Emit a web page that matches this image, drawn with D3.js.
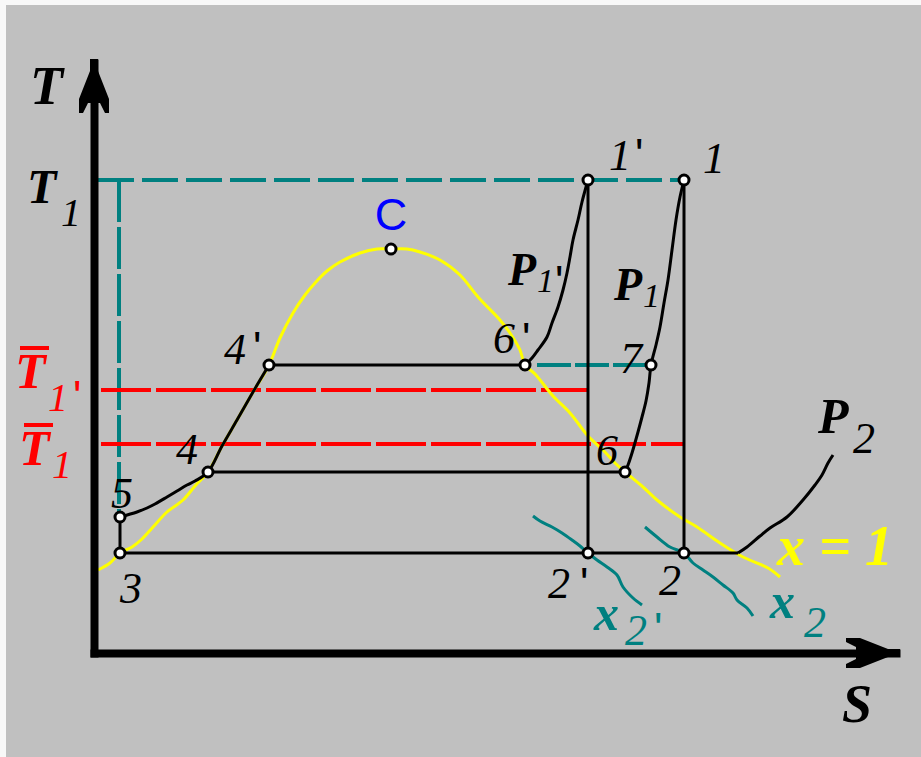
<!DOCTYPE html>
<html>
<head>
<meta charset="utf-8">
<script src="https://cdn.jsdelivr.net/npm/d3@7"></script>
<style>
  html, body { margin: 0; padding: 0; background: #f8f8f8; }
  svg { display: block; }
</style>
</head>
<body>
<svg id="chart" width="921" height="757"></svg>
<script>
// ---- T–S diagram of a steam cycle at two upper pressures (P1, P1') ----

// Axis extents (entropy S, temperature T, arbitrary units)
const S_MAX = 8.02;
const T_MAX = 5.90;

// Named state points
const pointNames = ["3", "5", "4", "4'", "C", "6'", "7", "1'", "1", "6", "2'", "2"];
const pointS     = [0.26, 0.26, 1.14, 1.75, 2.97, 4.31, 5.57, 4.94, 5.90, 5.31, 4.94, 5.90];
const pointT     = [1.00, 1.36, 1.81, 2.88, 4.04, 2.88, 2.88, 4.73, 4.73, 1.81, 1.00, 1.00];

// Upper temperature T1 and the mean heat-addition temperatures
const T1 = 4.73;
const meanTempNames = ["T1'", "T1"];
const meanTempT     = [2.63, 2.09];
const meanTempEndS  = [4.94, 5.90];

// Saturation dome (x = 0 on the left, x = 1 on the right)
const saturationCurve = [
  [0.04, 0.83], [0.16, 0.90], [0.26, 1.00], [0.38, 1.06], [0.48, 1.14], [0.59, 1.26],
  [0.73, 1.41], [0.89, 1.53], [1.01, 1.67], [1.14, 1.81], [1.28, 2.07], [1.43, 2.33],
  [1.59, 2.61], [1.75, 2.88], [1.86, 3.15], [1.99, 3.40], [2.11, 3.58], [2.21, 3.70],
  [2.33, 3.82], [2.46, 3.91], [2.66, 4.00], [2.83, 4.04], [2.97, 4.04], [3.13, 4.04],
  [3.26, 4.01], [3.46, 3.93], [3.66, 3.78], [3.84, 3.56], [4.06, 3.33], [4.16, 3.20],
  [4.26, 3.03], [4.31, 2.88], [4.41, 2.79], [4.59, 2.57], [4.76, 2.40], [4.94, 2.17],
  [5.09, 2.03], [5.21, 1.90], [5.31, 1.81], [5.49, 1.66], [5.63, 1.53], [5.86, 1.36],
  [6.03, 1.26], [6.26, 1.10], [6.49, 0.96], [6.74, 0.85], [6.86, 0.76]
];

// Liquid heating 5 -> 4 -> 4'
const liquidLine = [
  [0.26, 1.36], [0.43, 1.41], [0.53, 1.45], [0.61, 1.49], [0.73, 1.56], [0.83, 1.62],
  [0.93, 1.68], [1.01, 1.72], [1.14, 1.81], [1.28, 2.07], [1.43, 2.33], [1.59, 2.61], [1.75, 2.88]
];

// Superheating isobar P1': 6' -> 1'
const isobarP1prime = [
  [4.31, 2.88], [4.38, 2.95], [4.44, 3.03], [4.53, 3.16], [4.58, 3.30], [4.64, 3.46],
  [4.69, 3.63], [4.73, 3.80], [4.76, 3.96], [4.79, 4.13], [4.84, 4.33], [4.88, 4.51], [4.94, 4.73]
];

// Superheating isobar P1: 6 -> 7 -> 1
const isobarP1 = [
  [5.31, 1.81], [5.34, 1.88], [5.38, 2.00], [5.44, 2.21], [5.48, 2.36], [5.52, 2.52],
  [5.55, 2.70], [5.57, 2.88], [5.62, 3.08], [5.66, 3.26], [5.70, 3.50], [5.74, 3.73],
  [5.78, 4.03], [5.82, 4.33], [5.86, 4.56], [5.90, 4.73]
];

// Condenser isobar P2 beyond the dome
const isobarP2 = [
  [6.44, 1.00], [6.53, 1.06], [6.66, 1.17], [6.76, 1.25], [6.93, 1.36], [7.09, 1.53],
  [7.21, 1.68], [7.28, 1.78], [7.34, 1.90], [7.39, 1.98]
];

// Constant-quality lines through 2' and 2
const qualityX2prime = [
  [4.39, 1.37], [4.46, 1.32], [4.58, 1.26], [4.68, 1.20], [4.78, 1.13], [4.86, 1.07],
  [4.94, 1.00], [5.03, 0.93], [5.13, 0.86], [5.23, 0.78], [5.29, 0.66], [5.39, 0.55], [5.48, 0.48]
];
const qualityX2 = [
  [5.51, 1.26], [5.63, 1.16], [5.76, 1.06], [5.90, 1.00], [5.99, 0.90], [6.09, 0.83],
  [6.19, 0.76], [6.29, 0.68], [6.39, 0.60], [6.43, 0.53], [6.53, 0.45], [6.59, 0.37]
];

// ---- drawing ----
const COL = { bg: "#c0c0c0", teal: "#008080", red: "#ff0000", yellow: "#ffff00", blue: "#0000ff", black: "#000000" };
const SERIF = "'Liberation Serif', 'Times New Roman', serif";
const SANS = "'Liberation Sans', Arial, sans-serif";

const svg = d3.select("#chart");
svg.append("rect").attr("x", 6).attr("y", 5).attr("width", 915).attr("height", 752).attr("fill", COL.bg);

const x = d3.scaleLinear().domain([0, S_MAX]).range([94, 896]);
const y = d3.scaleLinear().domain([0, T_MAX]).range([653, 63]);

const pts = pointNames.map((n, i) => ({ name: n, s: pointS[i], t: pointT[i] }));
const P = Object.fromEntries(pts.map(p => [p.name, p]));

const smooth = d3.line().x(d => x(d[0])).y(d => y(d[1])).curve(d3.curveCatmullRom.alpha(0.5));
const straight = d3.line().x(d => x(d[0])).y(d => y(d[1]));

const gLines = svg.append("g").attr("fill", "none");

// teal dashed guide lines: T1 level, drop to the pump exit, 6'–7 level
gLines.append("path")
  .attr("d", straight([[0.04, T1], [P["1"].s, T1]]))
  .attr("stroke", COL.teal).attr("stroke-width", 4).attr("stroke-dasharray", "36 8");
gLines.append("path")
  .attr("d", straight([[0.25, T1], [0.25, P["5"].t]]))
  .attr("stroke", COL.teal).attr("stroke-width", 4).attr("stroke-dasharray", "42 5");
gLines.append("path")
  .attr("d", straight([[P["6'"].s + 0.12, P["6'"].t], [P["7"].s, P["7"].t]]))
  .attr("stroke", COL.teal).attr("stroke-width", 4).attr("stroke-dasharray", "34 4");

// red dashed mean temperatures
meanTempT.forEach((t, i) => {
  gLines.append("path")
    .attr("d", straight([[0.07, t], [meanTempEndS[i], t]]))
    .attr("stroke", COL.red).attr("stroke-width", 4).attr("stroke-dasharray", "50 5");
});

// saturation dome
gLines.append("path").attr("d", smooth(saturationCurve))
  .attr("stroke", COL.yellow).attr("stroke-width", 3);

// quality lines
[qualityX2prime, qualityX2].forEach(q => {
  gLines.append("path").attr("d", smooth(q))
    .attr("stroke", COL.teal).attr("stroke-width", 3);
});

// cycle lines (black)
const black = (d) => gLines.append("path").attr("d", d).attr("stroke", COL.black).attr("stroke-width", 3);
black(smooth(liquidLine));
black(smooth(isobarP1prime));
black(smooth(isobarP1));
black(smooth(isobarP2));
black(straight([[P["3"].s, P["3"].t], [isobarP2[0][0], isobarP2[0][1]]]));   // 3 … 2' … 2 condensation
black(straight([[P["4"].s, P["4"].t], [P["6"].s, P["6"].t]]));               // 4 – 6
black(straight([[P["4'"].s, P["4'"].t], [P["6'"].s, P["6'"].t]]));           // 4' – 6'
black(straight([[P["3"].s, P["3"].t], [P["5"].s, P["5"].t]]));               // pump 3 – 5
black(straight([[P["1'"].s, P["1'"].t], [P["2'"].s, P["2'"].t]]));           // expansion 1' – 2'
black(straight([[P["1"].s, P["1"].t], [P["2"].s, P["2"].t]]));               // expansion 1 – 2

// axes (no ticks)
const gx = svg.append("g").attr("transform", `translate(0,${y(0)})`)
  .call(d3.axisBottom(x).tickValues([]).tickSizeOuter(0));
const gy = svg.append("g").attr("transform", `translate(${x(0)},0)`)
  .call(d3.axisLeft(y).tickValues([]).tickSizeOuter(0));
[gx, gy].forEach(g => g.select(".domain")
  .attr("stroke", COL.black).attr("stroke-width", 8).attr("stroke-linecap", "square"));

// fletched arrow heads at the axis ends
function arrowHead(tipX, tipY, ux, uy) {
  // (ux, uy) points back along the axis from the tip; v is perpendicular
  const vx = -uy, vy = ux;
  const local = [[0, -4], [12, -4], [40, -15], [54, -15], [54, -11], [44, -6],
                 [44, 6], [54, 11], [54, 15], [40, 15], [12, 4], [0, 4]];
  const p = local.map(([a, b]) => [tipX + a * ux + b * vx, tipY + a * uy + b * vy]);
  svg.append("path").attr("d", "M" + p.map(q => q.join(",")).join("L") + "Z").attr("fill", COL.black);
}
arrowHead(x(S_MAX) + 4, y(0), -1, 0);
arrowHead(x(0), y(T_MAX) - 4, 0, 1);

// state point markers
svg.append("g").selectAll("circle").data(pts).join("circle")
  .attr("cx", d => x(d.s)).attr("cy", d => y(d.t)).attr("r", 5)
  .attr("fill", "#ffffff").attr("stroke", COL.black).attr("stroke-width", 3);

// ---- text ----
// each label is one <text>; its pieces (main letter, subscript, prime) are tspans
const gText = svg.append("g");
function label(parts, fill, anchor) {
  const t = gText.append("text").attr("fill", fill || COL.black).attr("text-anchor", anchor || "start");
  parts.forEach(p => {
    t.append("tspan").attr("x", p.x).attr("y", p.y)
      .attr("font-family", p.family || SERIF)
      .attr("font-size", p.size || 44)
      .attr("font-style", p.style || "italic")
      .attr("font-weight", p.weight || "normal")
      .text(p.s);
  });
  return t;
}
const part = (px, py, s, size, weight) => ({ x: px, y: py, s, size, weight });
const primePart = (px, py) => ({ x: px, y: py, s: "'", family: SANS, style: "normal", size: 44 });

// state point labels, offset from their points
const labelOffset = {
  "3": [0, 50], "5": [-9, -9], "4": [-32, -8], "4'": [-45, -1], "6'": [-32, -12],
  "7": [-31, 8], "6": [-29, -7], "1'": [21, -10], "1": [19, -7], "2'": [-40, 45], "2": [-25, 42]
};
const primeOffset = { "4'": [-16, -2], "6'": [-3, -11], "1'": [47, -10], "2'": [-8, 46] };
Object.keys(labelOffset).forEach(n => {
  const px = x(P[n].s), py = y(P[n].t);
  const [dx, dy] = labelOffset[n];
  const parts = [part(px + dx, py + dy, n[0])];
  if (primeOffset[n]) parts.push(primePart(px + primeOffset[n][0], py + primeOffset[n][1]));
  label(parts);
});
label([{ x: x(P["C"].s), y: y(P["C"].t) - 19, s: "C", family: SANS, style: "normal", size: 45 }], COL.blue, "middle");

// axis titles
label([part(x(0) - 64, y(T_MAX) + 41, "T", 54, "bold")]);
label([part(x(S_MAX) - 54, y(0) + 69, "S", 54, "bold")]);
label([part(x(0) - 67, y(T1) + 23, "T", 48, "bold"), part(x(0) - 33, y(T1) + 46, "1", 40)]);

// mean-temperature labels with overbars
meanTempT.forEach((t, i) => {
  const base = i === 0 ? y(t) - 2 : y(t) + 21;
  const left = i === 0 ? 15 : 19;
  const parts = [part(left, base, "T", 50, "bold"), part(left + 33, base + (i === 0 ? 23 : 13), "1", 40)];
  if (meanTempNames[i].endsWith("'")) parts.push(primePart(left + 58, base + 24));
  label(parts, COL.red);
  gText.append("line").attr("x1", left + 5).attr("x2", left + 34)
    .attr("y1", base - 40).attr("y2", base - 40)
    .attr("stroke", COL.red).attr("stroke-width", 4);
});

// isobar labels
{
  const ax = x(P["1'"].s), ay = y(P["1'"].t);
  label([part(ax - 80, ay + 105, "P", 46, "bold"), part(ax - 51, ay + 112, "1", 34), primePart(ax - 33, ay + 117)]);
  const bx = x(P["1"].s), by = y(P["1"].t);
  label([part(bx - 70, by + 120, "P", 46, "bold"), part(bx - 41, by + 127, "1", 34)]);
  const e = isobarP2[isobarP2.length - 1];
  label([part(x(e[0]) - 15, y(e[1]) - 22, "P", 50, "bold"), part(x(e[0]) + 20, y(e[1]) - 2, "2", 44)]);
}

// quality labels
{
  const ax = x(P["2'"].s), ay = y(P["2'"].t);
  label([part(ax + 6, ay + 77, "x", 50, "bold"), part(ax + 37, ay + 92, "2", 44), primePart(ax + 66, ay + 91)], COL.teal);
  const bx = x(P["2"].s), by = y(P["2"].t);
  label([part(bx + 86, by + 65, "x", 50, "bold"), part(bx + 120, by + 84, "2", 44)], COL.teal);
}

// dome label
label([part(x(6.83), y(0.88), "x = 1", 56, "bold")], COL.yellow);
</script>
</body>
</html>
